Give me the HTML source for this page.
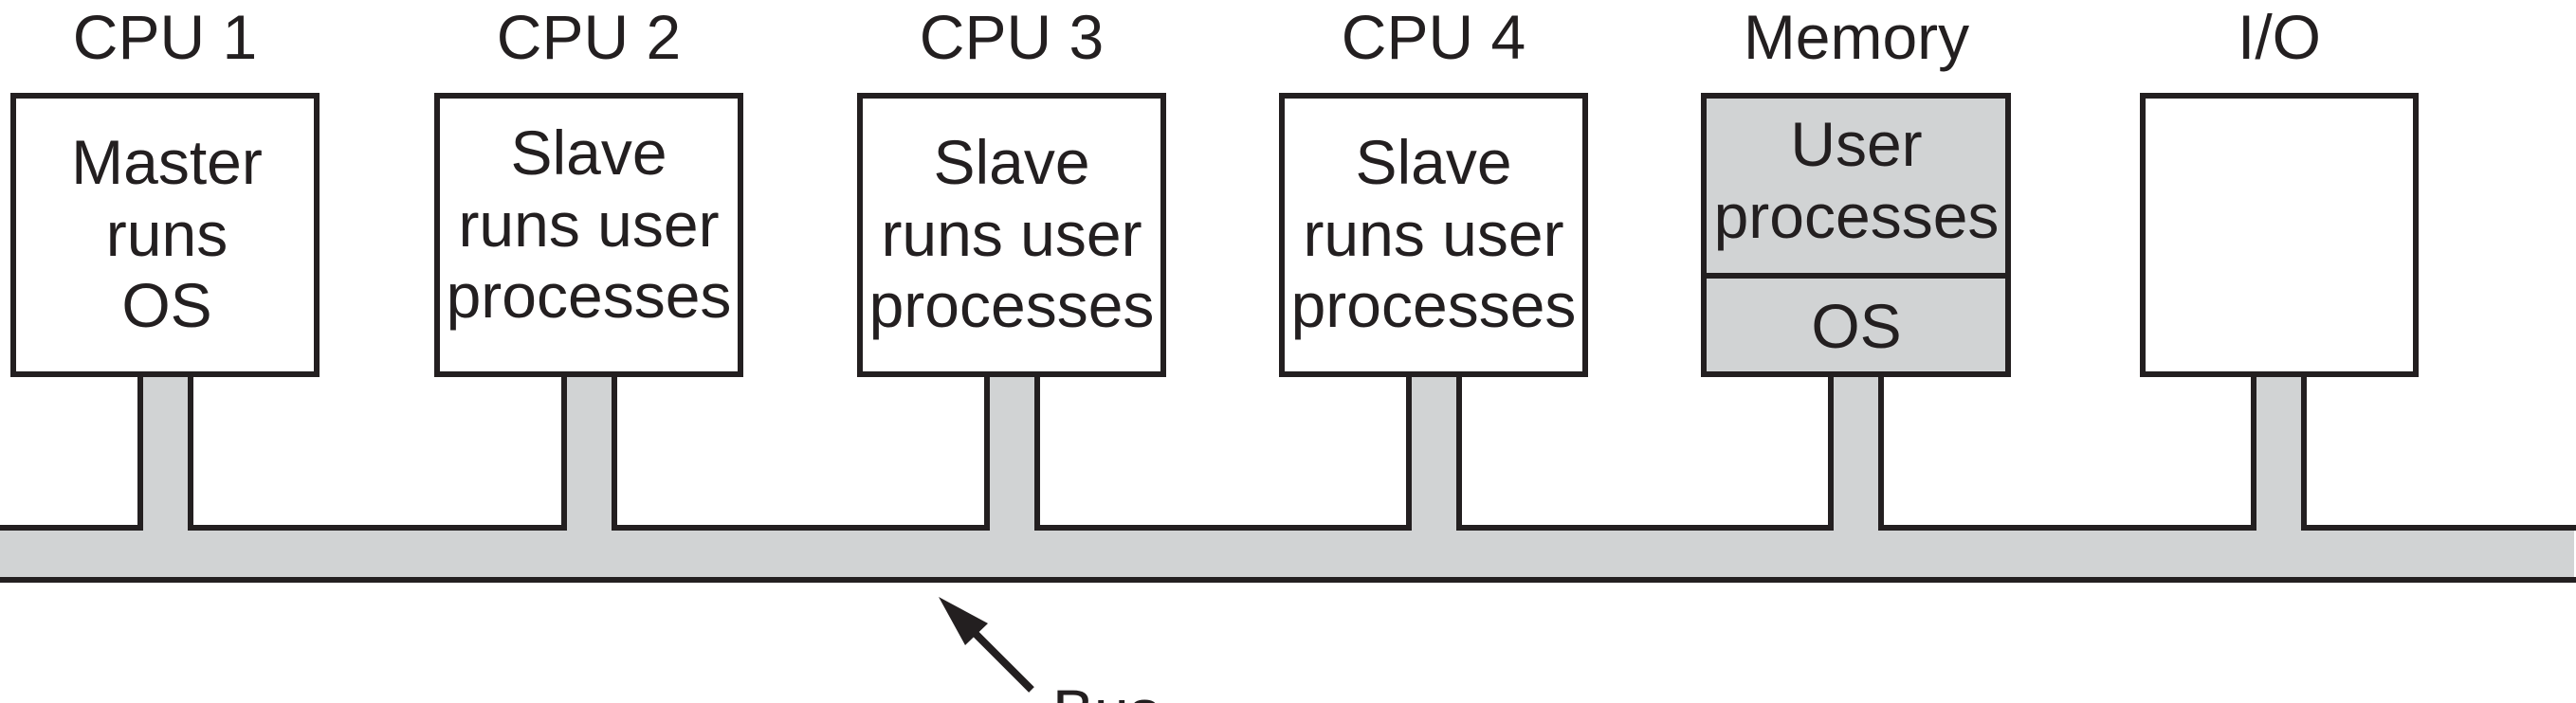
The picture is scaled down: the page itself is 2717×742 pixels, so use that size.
<!DOCTYPE html>
<html><head><style>html,body{margin:0;padding:0;background:#fff;overflow:hidden;width:2717px;height:742px}svg{display:block}</style></head>
<body>
<svg width="2717" height="742" viewBox="0 0 2717 742" xmlns="http://www.w3.org/2000/svg" font-family="Liberation Sans, Arial, sans-serif" fill="#231f20">
<g stroke="#231f20" stroke-width="6">
<g fill="#d1d3d4">
<rect x="148" y="395" width="53" height="170"/>
<rect x="595" y="395" width="53" height="170"/>
<rect x="1041" y="395" width="53" height="170"/>
<rect x="1486" y="395" width="53" height="170"/>
<rect x="1931" y="395" width="53" height="170"/>
<rect x="2377" y="395" width="53" height="170"/>
</g>
<rect x="0" y="557" width="2715" height="55" fill="#d1d3d4" stroke="none"/>
<path fill="none" d="M0,557 H148 V397 M201,397 V557 H595 V397 M648,397 V557 H1041 V397 M1094,397 V557 H1486 V397 M1539,397 V557 H1931 V397 M1984,397 V557 H2377 V397 M2430,397 V557 H2717 M0,612 H2717"/>
<rect x="14" y="101" width="320" height="294" fill="#fff"/>
<rect x="461" y="101" width="320" height="294" fill="#fff"/>
<rect x="907" y="101" width="320" height="294" fill="#fff"/>
<rect x="1352" y="101" width="320" height="294" fill="#fff"/>
<rect x="1797" y="101" width="321" height="294" fill="#d1d3d4"/>
<line x1="1797" y1="291" x2="2118" y2="291"/>
<rect x="2260" y="101" width="288" height="294" fill="#fff"/>
<line x1="1088" y1="728" x2="1010" y2="650" stroke-width="8"/>
</g>
<polygon points="990,630 1018,681 1042,658" fill="#231f20"/>
<g font-size="66" text-anchor="middle">
<text x="174" y="62">CPU 1</text>
<text x="621" y="62">CPU 2</text>
<text x="1067" y="62">CPU 3</text>
<text x="1512" y="62">CPU 4</text>
<text x="1958" y="62">Memory</text>
<text x="2404" y="62">I/O</text>
<text x="176" y="194">Master</text>
<text x="176" y="270">runs</text>
<text x="176" y="345">OS</text>
<text x="621" y="184">Slave</text>
<text x="621" y="260">runs user</text>
<text x="621" y="335">processes</text>
<text x="1067" y="194">Slave</text>
<text x="1067" y="270">runs user</text>
<text x="1067" y="345">processes</text>
<text x="1512" y="194">Slave</text>
<text x="1512" y="270">runs user</text>
<text x="1512" y="345">processes</text>
<text x="1958" y="175">User</text>
<text x="1958" y="251">processes</text>
<text x="1958" y="367">OS</text>
</g>
<text x="1110" y="774" font-size="66">Bus</text>
</svg>
</body></html>
